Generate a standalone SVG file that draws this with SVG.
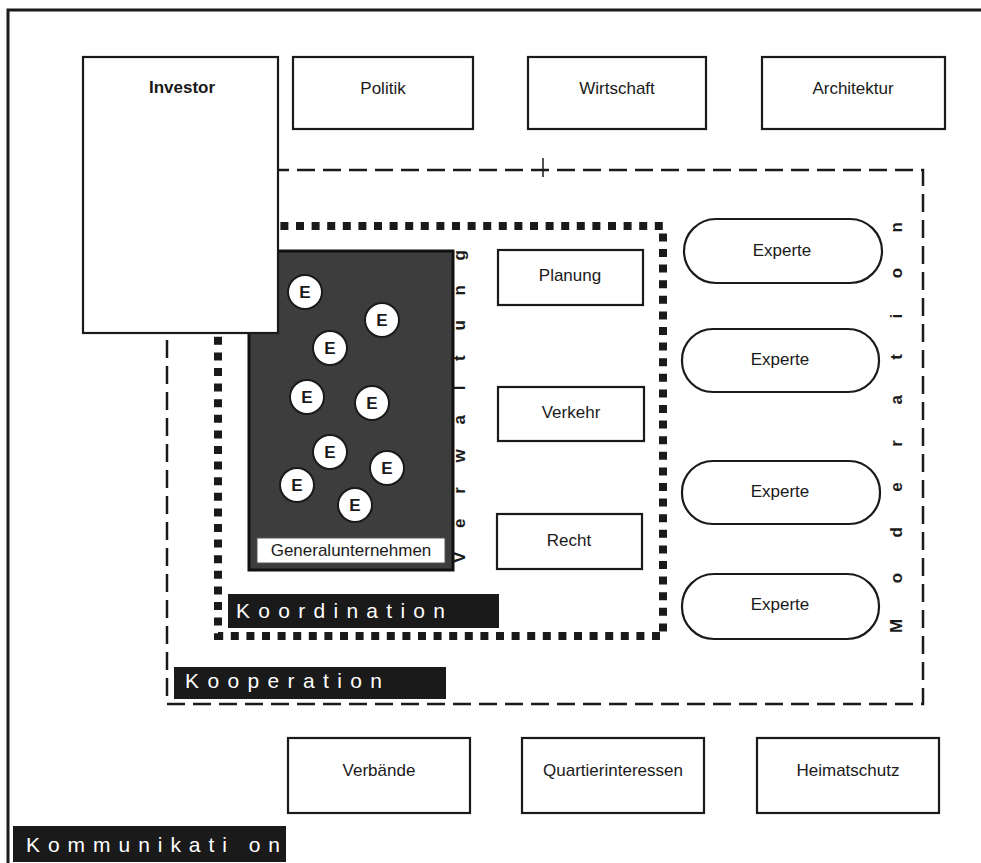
<svg xmlns="http://www.w3.org/2000/svg" width="981" height="863" viewBox="0 0 981 863">
<style>
.box{fill:#fff;stroke:#1a1a1a;stroke-width:2.2}
.t{font-family:"Liberation Sans",Arial,sans-serif;font-size:17px;fill:#1a1a1a;text-anchor:middle}
.e{font-family:"Liberation Sans",Arial,sans-serif;font-size:17px;font-weight:bold;fill:#1a1a1a;text-anchor:middle}
.circ{fill:#fff;stroke:#1a1a1a;stroke-width:2}
.lbl{fill:#1a1a1a}
.lt{font-family:"Liberation Sans",Arial,sans-serif;font-size:21px;fill:#fff}
.vt{font-family:"Liberation Sans",Arial,sans-serif;font-size:17px;font-weight:bold;fill:#1a1a1a}
</style>
<rect width="981" height="863" fill="#fff"/>
<g id="frame-kommunikation">
<path d="M8,863 V10 H981" fill="none" stroke="#1a1a1a" stroke-width="3"/>
</g>
<g id="kooperation">
<rect x="167" y="170" width="756" height="534" fill="none" stroke="#1a1a1a" stroke-width="2.5" stroke-dasharray="18,8"/>
<line x1="543" y1="158" x2="543" y2="177" stroke="#1a1a1a" stroke-width="1.5"/>
</g>
<g id="koordination">
<rect x="218" y="226" width="445" height="410" fill="none" stroke="#1a1a1a" stroke-width="8" stroke-dasharray="8,7.6"/>
</g>
<g id="generalunternehmen">
<rect x="249" y="251" width="204" height="319" fill="#3d3d3d" stroke="#111" stroke-width="3"/>
<rect x="257" y="538" width="188" height="25" fill="#fff" stroke="#555" stroke-width="1"/>
<text class="t" x="351" y="556">Generalunternehmen</text>
</g>
<g id="entities">
<circle class="circ" cx="305" cy="292" r="17"/><text class="e" x="305" y="298">E</text>
<circle class="circ" cx="382" cy="320" r="17"/><text class="e" x="382" y="326">E</text>
<circle class="circ" cx="330" cy="348" r="17"/><text class="e" x="330" y="354">E</text>
<circle class="circ" cx="307" cy="397" r="17"/><text class="e" x="307" y="403">E</text>
<circle class="circ" cx="372" cy="403" r="17"/><text class="e" x="372" y="409">E</text>
<circle class="circ" cx="330" cy="452" r="17"/><text class="e" x="330" y="458">E</text>
<circle class="circ" cx="297" cy="485" r="17"/><text class="e" x="297" y="491">E</text>
<circle class="circ" cx="387" cy="468" r="17"/><text class="e" x="387" y="474">E</text>
<circle class="circ" cx="355" cy="505" r="17"/><text class="e" x="355" y="511">E</text>
</g>
<g id="investor">
<rect class="box" x="83" y="57" width="195" height="276"/>
<text class="t" x="182" y="93" font-weight="bold">Investor</text>
</g>
<g id="politik"><rect class="box" x="293" y="57" width="180" height="72"/><text class="t" x="383" y="94">Politik</text></g>
<g id="wirtschaft"><rect class="box" x="528" y="57" width="178" height="72"/><text class="t" x="617" y="94">Wirtschaft</text></g>
<g id="architektur"><rect class="box" x="762" y="57" width="183" height="72"/><text class="t" x="853" y="94">Architektur</text></g>
<g id="verwaltung">
<text class="vt" transform="translate(465,563) rotate(-90)" textLength="313" lengthAdjust="spacing">Verwaltung</text>
</g>
<g id="planung"><rect class="box" x="498" y="250" width="145" height="55"/><text class="t" x="570" y="281">Planung</text></g>
<g id="verkehr"><rect class="box" x="498" y="387" width="146" height="54"/><text class="t" x="571" y="418">Verkehr</text></g>
<g id="recht"><rect class="box" x="497" y="514" width="145" height="55"/><text class="t" x="569" y="546">Recht</text></g>
<g id="experte1"><rect class="box" x="684" y="219" width="198" height="64" rx="32"/><text class="t" x="782" y="256">Experte</text></g>
<g id="experte2"><rect class="box" x="682" y="329" width="197" height="63" rx="31"/><text class="t" x="780" y="365">Experte</text></g>
<g id="experte3"><rect class="box" x="682" y="461" width="198" height="63" rx="31"/><text class="t" x="780" y="497">Experte</text></g>
<g id="experte4"><rect class="box" x="682" y="574" width="197" height="65" rx="32"/><text class="t" x="780" y="610">Experte</text></g>
<g id="moderation">
<text class="vt" transform="translate(902,633) rotate(-90)" textLength="411" lengthAdjust="spacing">Moderation</text>
</g>
<g id="label-koordination">
<rect class="lbl" x="228" y="594" width="271" height="34"/>
<text class="lt" x="236" y="618" textLength="209" lengthAdjust="spacing">Koordination</text>
</g>
<g id="label-kooperation">
<rect class="lbl" x="174" y="667" width="272" height="32"/>
<text class="lt" x="185" y="688" textLength="197" lengthAdjust="spacing">Kooperation</text>
</g>
<g id="verbaende"><rect class="box" x="288" y="738" width="182" height="75"/><text class="t" x="379" y="776">Verbände</text></g>
<g id="quartierinteressen"><rect class="box" x="522" y="738" width="182" height="75"/><text class="t" x="613" y="776">Quartierinteressen</text></g>
<g id="heimatschutz"><rect class="box" x="757" y="738" width="182" height="75"/><text class="t" x="848" y="776">Heimatschutz</text></g>
<g id="label-kommunikation">
<rect class="lbl" x="13" y="826" width="273" height="36"/>
<text class="lt" x="26" y="852" textLength="254" lengthAdjust="spacing">Kommunikati on</text>
</g>
</svg>
